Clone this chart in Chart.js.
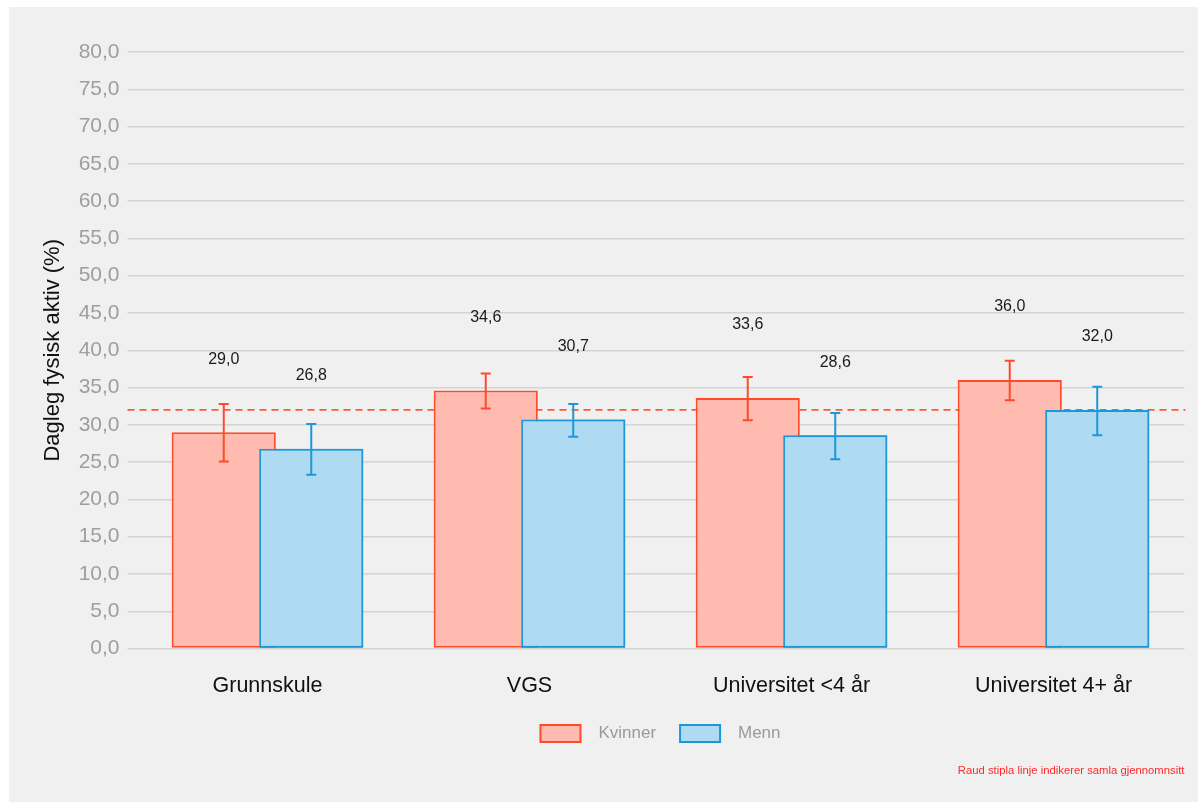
<!DOCTYPE html>
<html>
<head>
<meta charset="utf-8">
<script src="https://cdn.jsdelivr.net/npm/chart.js@4/dist/chart.umd.min.js"></script>
<style>
  html, body { margin: 0; padding: 0; background: #fff; }
  #wrap { width: 1203px; height: 802px; }
</style>
</head>
<body>
<div id="wrap"><canvas id="chart" width="1203" height="802"></canvas></div>
<script>
const categories = ['Grunnskule', 'VGS', 'Universitet <4 år', 'Universitet 4+ år'];
const kvinner = [29.0, 34.6, 33.6, 36.0];
const menn = [26.8, 30.7, 28.6, 32.0];
const kvinnerLow = [25.1, 32.2, 30.6, 33.3];
const kvinnerHigh = [32.8, 36.9, 36.4, 38.6];
const mennLow = [23.3, 28.4, 25.4, 28.6];
const mennHigh = [30.1, 32.8, 31.6, 35.1];
const average = 32.0;
const labelNudge = 9.8;

const RED = '#ff4a2b';
const BLUE = '#1e97d8';
const fmt = v => v.toFixed(1).replace('.', ',');

const panelBg = {
  id: 'panelBg',
  beforeDraw(chart) {
    const { ctx } = chart;
    ctx.save();
    ctx.fillStyle = '#f0f0f0';
    ctx.fillRect(9, 7, 1189, 795);
    ctx.restore();
  }
};

// dashed average line, behind the bars
const avgLine = {
  id: 'avgLine',
  beforeDatasetsDraw(chart) {
    const { ctx, chartArea, scales } = chart;
    const y = scales.y.getPixelForValue(average);
    ctx.save();
    ctx.strokeStyle = '#ff5a3c';
    ctx.lineWidth = 1.6;
    ctx.setLineDash([7, 5]);
    ctx.beginPath();
    ctx.moveTo(chartArea.left - 9, y);
    ctx.lineTo(chartArea.right + 1, y);
    ctx.stroke();
    ctx.restore();
  }
};

const errorBars = {
  id: 'errorBars',
  afterDatasetsDraw(chart) {
    const { ctx, scales } = chart;
    // chart.js paints the first dataset last; put Menn back on top like the original
    chart.getDatasetMeta(1).controller.draw();

    const sets = [[kvinnerLow, kvinnerHigh, RED], [mennLow, mennHigh, BLUE]];
    ctx.save();
    ctx.lineWidth = 2;
    sets.forEach(([lo, hi, color], di) => {
      const meta = chart.getDatasetMeta(di);
      ctx.strokeStyle = color;
      meta.data.forEach((bar, i) => {
        const x = bar.x;
        const y1 = scales.y.getPixelForValue(lo[i]);
        const y2 = scales.y.getPixelForValue(hi[i]);
        ctx.beginPath();
        ctx.moveTo(x, y1); ctx.lineTo(x, y2);
        ctx.moveTo(x - 5, y1); ctx.lineTo(x + 5, y1);
        ctx.moveTo(x - 5, y2); ctx.lineTo(x + 5, y2);
        ctx.stroke();
      });
    });
    // value labels
    ctx.fillStyle = '#1a1a1a';
    ctx.font = '16px "Liberation Sans", Arial, sans-serif';
    ctx.textAlign = 'center';
    ctx.textBaseline = 'middle';
    chart.data.datasets.forEach((ds, di) => {
      chart.getDatasetMeta(di).data.forEach((bar, i) => {
        ctx.fillText(fmt(ds.data[i]), bar.x, scales.y.getPixelForValue(ds.data[i] + labelNudge));
      });
    });
    ctx.restore();
  }
};

Chart.defaults.font.family = '"Liberation Sans", Arial, sans-serif';

new Chart(document.getElementById('chart'), {
  type: 'bar',
  data: {
    labels: categories,
    datasets: [
      {
        label: 'Kvinner',
        data: kvinner,
        backgroundColor: '#ffbbb0',
        borderColor: RED,
        borderWidth: 2,
        borderSkipped: false
      },
      {
        label: 'Menn',
        data: menn,
        backgroundColor: '#afdbf2',
        borderColor: BLUE,
        borderWidth: 2,
        borderSkipped: false
      }
    ]
  },
  options: {
    responsive: false,
    animation: false,
    categoryPercentage: 0.668,
    barPercentage: 1.19,
    layout: { padding: { top: 52, left: 0, right: 18.5, bottom: 0 } },
    scales: {
      x: {
        grid: { display: false, drawTicks: false },
        border: { display: false },
        ticks: { color: '#111', font: { size: 21.5 }, padding: 25 },
        afterFit: s => { s.height = 52.5; }
      },
      y: {
        min: 0,
        max: 80,
        grid: { color: '#d4d4d4', lineWidth: 1.5, tickLength: 9, tickColor: '#d4d4d4' },
        border: { display: false },
        ticks: { stepSize: 5, color: '#9e9e9e', font: { size: 21 }, padding: 8, callback: v => fmt(v) },
        title: {
          display: true,
          text: 'Dagleg fysisk aktiv (%)',
          color: '#111',
          font: { size: 22 },
          padding: { top: 40, bottom: 0 }
        },
        afterFit: s => { s.width = 136.5; }
      }
    },
    plugins: {
      legend: {
        position: 'bottom',
        fullSize: false,
        labels: {
          boxWidth: 40,
          boxHeight: 17,
          padding: 24,
          color: '#9a9a9a',
          font: { size: 17 },
          // wider gap between key and text, as in the original
          generateLabels: chart => Chart.defaults.plugins.legend.labels.generateLabels(chart)
            .map(item => ({ ...item, text: '  ' + item.text }))
        }
      },
      subtitle: {
        display: true,
        position: 'bottom',
        align: 'end',
        text: 'Raud stipla linje indikerer samla gjennomnsitt',
        color: '#ff2a2a',
        font: { size: 11.3 },
        padding: { top: 12, bottom: 24.4 }
      },
      tooltip: { enabled: false }
    }
  },
  plugins: [panelBg, avgLine, errorBars]
});
</script>
</body>
</html>
